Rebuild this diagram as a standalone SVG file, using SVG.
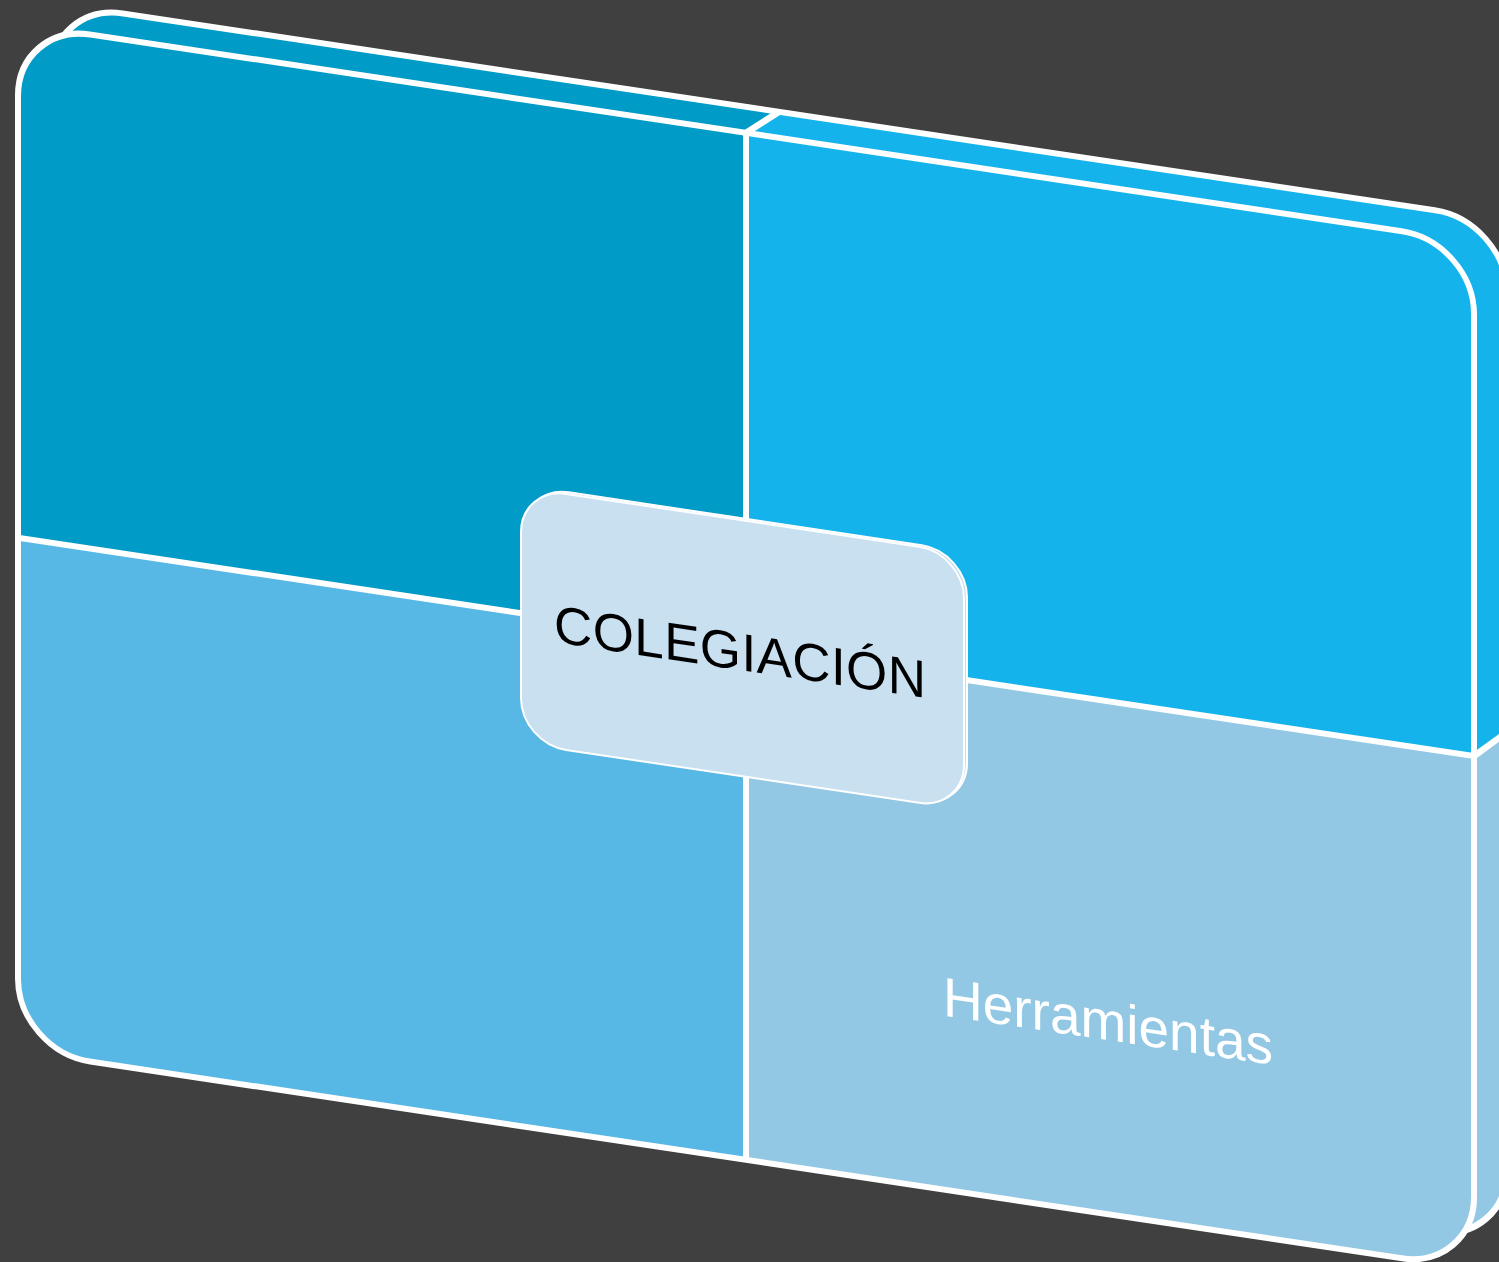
<svg xmlns="http://www.w3.org/2000/svg" width="1499" height="1262" viewBox="0 0 1499 1262">
  <style>
    .q1{fill:#009BC6}
    .q2{fill:#15B3EC}
    .q3{fill:#58B8E5}
    .q4{fill:#93C8E4}
    .edge{fill:none;stroke:#FFFFFF;stroke-width:6}
    .div{stroke:#FFFFFF;stroke-width:6}
    .box{fill:#C9E0F1;stroke:#FFFFFF;stroke-width:2}
    .title{font-family:"Liberation Sans","DejaVu Sans",sans-serif;font-size:53px;fill:#000000}
    .label{font-family:"Liberation Sans","DejaVu Sans",sans-serif;font-size:55px;fill:#FFFFFF}
  </style>
  <defs>
    <clipPath id="clipBack" clipPathUnits="userSpaceOnUse">
      <rect x="51" y="-5" width="1456" height="1022" rx="72" ry="72"/>
    </clipPath>
    <clipPath id="clipFront" clipPathUnits="userSpaceOnUse">
      <rect x="18" y="21" width="1456" height="1027" rx="72" ry="72"/>
    </clipPath>
  </defs>
  <rect x="0" y="0" width="1499" height="1262" fill="#404040"/>
  <g transform="matrix(1,0.15,0,1,0,0)">
    <g id="back-face">
      <g clip-path="url(#clipBack)">
        <polygon class="q1" points="0,-20 798,-20 746,21 746,535 0,535"/>
        <polygon class="q2" points="798,-20 1600,-20 1600,424 1474,535 746,535 746,21"/>
        <polygon class="q3" points="0,535 746,535 746,1100 0,1100"/>
        <polygon class="q4" points="746,535 1474,535 1600,424 1600,1100 746,1100"/>
      </g>
      <rect class="edge" x="51" y="-5" width="1456" height="1022" rx="72" ry="72"/>
    </g>
    <g id="front-face">
      <g clip-path="url(#clipFront)">
        <rect class="q1" x="18" y="21" width="728" height="514"/>
        <rect class="q2" x="746" y="21" width="728" height="514"/>
        <rect class="q3" x="18" y="535" width="728" height="513"/>
        <rect class="q4" x="746" y="535" width="728" height="513"/>
      </g>
    </g>
    <g id="connectors">
      <line class="div" x1="746" y1="21" x2="746" y2="1048"/>
      <line class="div" x1="18" y1="535" x2="1474" y2="535"/>
      <line class="div" x1="746" y1="21" x2="779" y2="-5"/>
      <line class="div" x1="1474" y1="535" x2="1507" y2="506"/>
    </g>
    <rect class="edge" x="18" y="21" width="1456" height="1027" rx="72" ry="72"/>
    <g id="node-herramientas">
      <text class="label" x="1108" y="874" text-anchor="middle">Herramientas</text>
    </g>
    <g id="node-colegiacion">
      <rect class="box" x="524" y="407" width="443" height="256" rx="45" ry="45"/>
      <rect class="box" x="521" y="409" width="443" height="256" rx="45" ry="45"/>
      <text class="title" x="740" y="559" text-anchor="middle" textLength="372" lengthAdjust="spacing">COLEGIACIÓN</text>
    </g>
  </g>
</svg>
